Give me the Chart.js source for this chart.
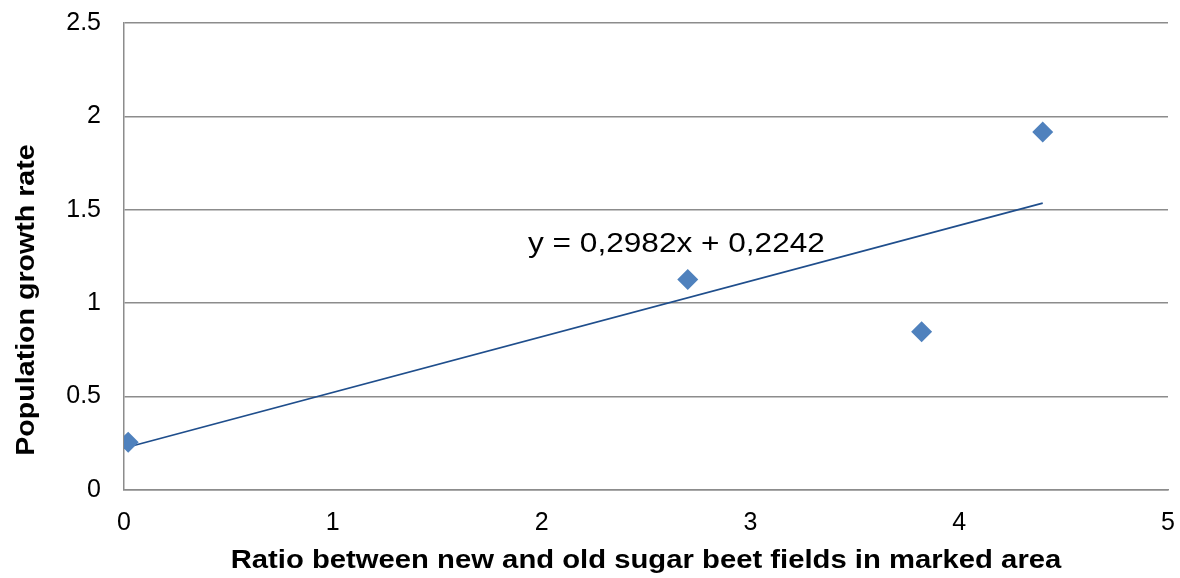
<!DOCTYPE html>
<html>
<head>
<meta charset="utf-8">
<script src="https://cdn.jsdelivr.net/npm/chart.js@4/dist/chart.umd.min.js"></script>
<style>
  html, body { margin: 0; padding: 0; background: #ffffff; }
  #wrap { width: 1180px; height: 578px; }
</style>
</head>
<body>
<div id="wrap"><canvas id="c" width="1180" height="578"></canvas></div>
<script>
// ---- data ----
const ratioX = [0.02, 2.70, 3.82, 4.40];
const growthY = [0.256, 1.127, 0.847, 1.916];
const trendSlope = 0.2982;
const trendIntercept = 0.2242;
const trendX = [0.02, 4.40];
const xTicks = [0, 1, 2, 3, 4, 5];
const yTicks = [0, 0.5, 1, 1.5, 2, 2.5];
const equationText = 'y = 0,2982x + 0,2242';
const equationPos = [1.935, 1.274];
const xTitle = 'Ratio between new and old sugar beet fields in marked area';
const yTitle = 'Population growth rate';

const FONT = '"Liberation Sans", Arial, sans-serif';

const points = ratioX.map((x, i) => ({ x: x, y: growthY[i] }));
const trend = trendX.map(x => ({ x: x, y: trendSlope * x + trendIntercept }));

const textPlugin = {
  id: 'texts',
  afterDraw(chart) {
    const ctx = chart.ctx;
    const area = chart.chartArea;
    const xs = chart.scales.x, ys = chart.scales.y;
    ctx.save();
    ctx.fillStyle = '#000000';
    // equation
    ctx.font = '27px ' + FONT;
    ctx.textAlign = 'left';
    ctx.textBaseline = 'alphabetic';
    const ex = xs.getPixelForValue(equationPos[0]);
    const ey = ys.getPixelForValue(equationPos[1]);
    ctx.save();
    ctx.translate(ex, ey);
    ctx.scale(1.17, 1);
    ctx.fillText(equationText, 0, 0);
    ctx.restore();
    // x title
    ctx.font = 'bold 26px ' + FONT;
    ctx.textAlign = 'center';
    ctx.save();
    ctx.translate((area.left + area.right) / 2, 568);
    ctx.scale(1.125, 1);
    ctx.fillText(xTitle, 0, 0);
    ctx.restore();
    // y title
    ctx.save();
    ctx.translate(34, 300);
    ctx.rotate(-Math.PI / 2);
    ctx.scale(1.1, 1);
    ctx.fillText(yTitle, 0, 0);
    ctx.restore();
    ctx.restore();
  }
};

function zeroPad(s) {
  s.paddingLeft = 0; s.paddingRight = 0; s.paddingTop = 0; s.paddingBottom = 0;
}

new Chart(document.getElementById('c'), {
  type: 'scatter',
  data: {
    datasets: [
      {
        label: 'Population growth rate',
        data: points,
        pointStyle: 'rectRot',
        pointRadius: 10.5,
        pointHoverRadius: 10.5,
        backgroundColor: '#4F81BD',
        borderColor: '#4F81BD',
        borderWidth: 0,
        showLine: false,
        order: 1
      },
      {
        label: 'Linear trend',
        type: 'line',
        data: trend,
        borderColor: '#1F4E8C',
        borderWidth: 1.8,
        pointRadius: 0,
        fill: false,
        tension: 0,
        order: 2
      }
    ]
  },
  options: {
    responsive: false,
    animation: false,
    events: [],
    layout: { padding: { left: 0, top: 23, right: 12, bottom: 0 } },
    plugins: { legend: { display: false }, tooltip: { enabled: false } },
    scales: {
      x: {
        type: 'linear',
        min: 0, max: 5,
        afterFit(s) { s.height = 88; zeroPad(s); },
        afterBuildTicks(s) { s.ticks = xTicks.map(v => ({ value: v })); },
        ticks: {
          color: '#000000',
          font: { family: FONT, size: 25 },
          padding: 18,
          maxRotation: 0,
          callback: v => String(v)
        },
        grid: { display: false, drawTicks: false },
        border: { display: true, color: '#8C8C8C', width: 1.5 }
      },
      y: {
        type: 'linear',
        min: 0, max: 2.5,
        afterFit(s) { s.width = 124; zeroPad(s); },
        afterBuildTicks(s) { s.ticks = yTicks.map(v => ({ value: v })); },
        ticks: {
          color: '#000000',
          font: { family: FONT, size: 25 },
          padding: 23,
          callback: v => String(v)
        },
        grid: { color: '#8C8C8C', lineWidth: 1.5, drawTicks: false },
        border: { display: true, color: '#8C8C8C', width: 1.5 }
      }
    }
  },
  plugins: [textPlugin]
});
</script>
</body>
</html>
